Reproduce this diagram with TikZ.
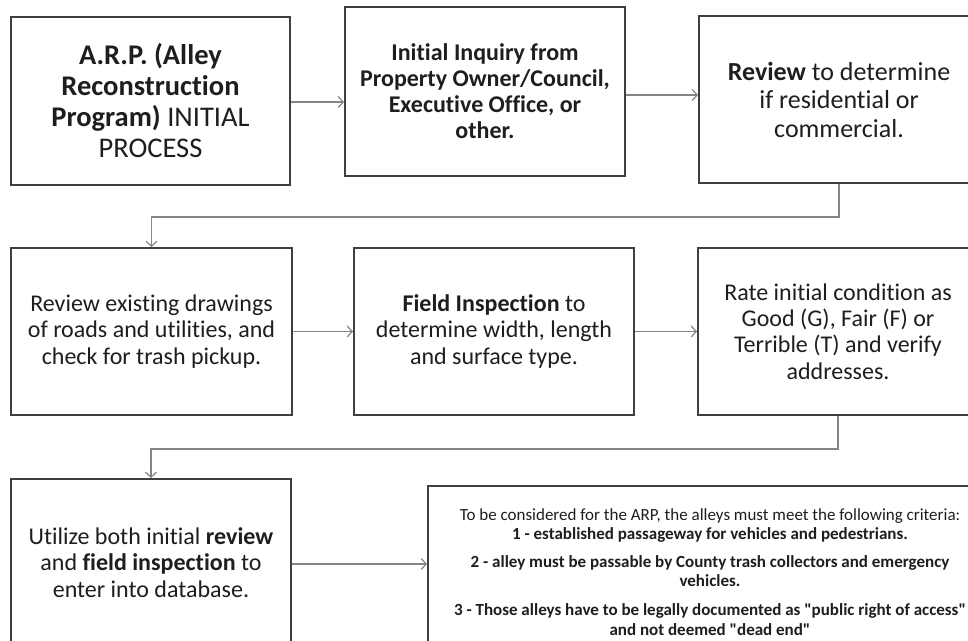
\documentclass[tikz,border=0pt]{standalone}
\usepackage{fontspec}
\setmainfont[Ligatures=NoCommon]{Carlito}
\usetikzlibrary{arrows.meta}
\definecolor{frame}{HTML}{3F3F3F}
\definecolor{link}{HTML}{858585}
\definecolor{ink}{HTML}{1E1E1E}
\newcommand{\dq}{\textquotedbl}
\begin{document}
\begin{tikzpicture}[x=1pt,y=-1pt,
  stepbox/.style={draw=frame, line width=2pt, fill=white, align=center, text=ink,
    inner sep=0pt, minimum width=280pt, minimum height=167pt},
  conn/.style={draw=link, line width=1.2pt, -{Straight Barb[length=5pt,width=11pt]}},
  titlefont/.style={font=\fontsize{28.5}{31}\selectfont},
  inqfont/.style={font=\bfseries\fontsize{24}{26}\selectfont},
  revfont/.style={font=\fontsize{26}{28.5}\selectfont},
  bodyfont/.style={font=\fontsize{24}{26.3}\selectfont},
  critfont/.style={font=\fontsize{17}{19.3}\selectfont}
]
\clip (0,0) rectangle (968,640);
\fill[white] (0,0) rectangle (968,640);

% first row
\node[stepbox, titlefont, minimum width=279pt, minimum height=168pt] (arp) at (150.5,101)
  {\textbf{A.R.P. (Alley}\\\textbf{Reconstruction}\\\textbf{Program)} INITIAL\\PROCESS};
\node[stepbox, inqfont, minimum height=169pt] (inquiry) at (485,91.5)
  {Initial Inquiry from\\Property Owner/Council,\\Executive Office, or\\other.};
\node[stepbox, revfont] (review) at (839,99.5)
  {\textbf{Review} to determine\\if residential or\\commercial.};

% second row
\node[stepbox, bodyfont, minimum width=281pt] (drawings) at (151.5,331.5)
  {Review existing drawings\\of roads and utilities, and\\check for trash pickup.};
\node[stepbox, bodyfont] (field) at (494,331.5)
  {\textbf{Field Inspection} to\\determine width, length\\and surface type.};
\node[stepbox, bodyfont] (rate) at (838,331.5)
  {Rate initial condition as\\Good (G), Fair (F) or\\Terrible (T) and verify\\addresses.};

% third row
\node[stepbox, bodyfont] (database) at (151,562.5)
  {Utilize both initial \textbf{review}\\and \textbf{field inspection} to\\enter into database.};
\node[stepbox, minimum width=564pt, minimum height=156pt] (criteria) at (710,564) {};
\node[critfont, text=ink, align=center, inner sep=0pt, anchor=north] (critlist) at (710,508.5)
  {To be considered for the ARP, the alleys must meet the following criteria:\\
   \textbf{1 - established passageway for vehicles and pedestrians.}\\[8.5pt]
   \textbf{2 - alley must be passable by County trash collectors and emergency}\\
   \textbf{vehicles.}\\[9.5pt]
   \textbf{3 - Those alleys have to be legally documented as \dq public right of access\dq}\\
   \textbf{and not deemed \dq dead end\dq}};

% connectors
\draw[conn] ([yshift=-1pt]arp.east) -- ([yshift=-1pt]arp.east -| inquiry.west);
\draw[conn] ([yshift=-3.5pt]inquiry.east) -- ([yshift=-3.5pt]inquiry.east -| review.west);
\draw[conn] (review.south) -- ++(0,33) -| (drawings.north);
\draw[conn] (drawings.east) -- (drawings.east -| field.west);
\draw[conn] (field.east) -- (field.east -| rate.west);
\draw[conn] (rate.south) -- ++(0,33) -| (database.north);
\draw[conn] ([yshift=-1.5pt]database.east) -- ([yshift=-1.5pt]database.east -| criteria.west);
\end{tikzpicture}
\end{document}
